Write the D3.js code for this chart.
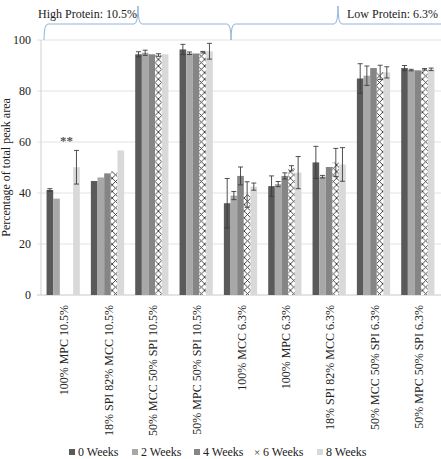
<!DOCTYPE html>
<html>
<head>
<meta charset="utf-8">
<script src="https://cdn.jsdelivr.net/npm/d3@7"></script>
<style>
  body { margin: 0; background: #fff; }
  svg text { font-family: "Liberation Serif", "Times New Roman", Times, "DejaVu Serif", serif !important; }
</style>
</head>
<body>
<div id="chart"></div>
<script>
// data
const categories = ["100% MPC 10.5%", "18% SPI 82% MCC 10.5%", "50% MCC 50% SPI 10.5%", "50% MPC 50% SPI 10.5%",
    "100% MCC 6.3%", "100% MPC 6.3%", "18% SPI 82% MCC 6.3%", "50% MCC 50% SPI 6.3%", "50% MPC 50% SPI 6.3%"];
const seriesNames = ["0 Weeks", "2 Weeks", "4 Weeks", "6 Weeks", "8 Weeks"];
const week0 = [41.2, 44.7, 94.4, 96.3, 36.0, 42.7, 52.0, 84.9, 89.0];
const week2 = [37.8, 46.1, 95.0, 94.8, 39.0, 43.5, 46.4, 86.0, 88.2];
const week4 = [null, 47.7, 94.4, 94.7, 46.7, 46.7, 50.2, 89.0, 88.1];
const week6 = [null, 48.4, 94.1, 95.2, 39.4, 49.7, 52.0, 87.3, 88.5];
const week8 = [50.1, 56.7, 94.4, 95.6, 42.5, 48.0, 51.2, 87.3, 88.5];
const err0 = [0.5, 0, 1.0, 2.0, 9.7, 4.0, 6.3, 5.8, 1.0];
const err2 = [0, 0, 1.0, 0.5, 1.6, 1.0, 0.5, 3.8, 0.3];
const err4 = [0, 0, 0, 0, 3.5, 1.2, 0, 0, 0];
const err6 = [0, 0, 0.5, 0.3, 5.0, 1.0, 5.5, 2.8, 0.3];
const err8 = [6.6, 0, 0, 3.1, 1.4, 6.3, 6.6, 2.2, 0.5];
const yTicks = [0, 20, 40, 60, 80, 100];
const groupLabels = ["High Protein: 10.5%", "Low Protein: 6.3%"];

const values = [week0, week2, week4, week6, week8];
const errors = [err0, err2, err4, err6, err8];
const colors = ["#5a5a5a", "#a8a8a8", "#858585", "url(#hatch)", "#d9d9d9"];

const width = 441, height = 459;
const margin = { top: 40, right: 1, bottom: 164, left: 41 };

const svg = d3.select("#chart").append("svg")
    .attr("width", width)
    .attr("height", height);

// cross hatch for 6 weeks
const pat = svg.append("defs").append("pattern")
    .attr("id", "hatch")
    .attr("patternUnits", "userSpaceOnUse")
    .attr("width", 6.6)
    .attr("height", 6.6);
pat.append("rect").attr("width", 6.6).attr("height", 6.6).attr("fill", "#fff");
pat.append("path").attr("d", "M0,0 L6.6,6.6 M6.6,0 L0,6.6")
    .attr("stroke", "#333").attr("stroke-width", 0.9);

const x0 = d3.scaleBand()
    .domain(categories)
    .range([margin.left, width - margin.right])
    .paddingInner(0.25)
    .paddingOuter(0.125);

const x1 = d3.scaleBand()
    .domain(seriesNames)
    .range([0, x0.bandwidth()]);

const y = d3.scaleLinear()
    .domain([0, 100])
    .range([height - margin.bottom, margin.top]);

// grid
svg.append("g")
    .selectAll("line")
    .data(yTicks)
    .join("line")
    .attr("x1", margin.left - 4)
    .attr("x2", width)
    .attr("y1", d => y(d))
    .attr("y2", d => y(d))
    .attr("stroke", d => d === 0 ? "#c8c8c8" : "#e2e2e2")
    .attr("stroke-width", 1);

svg.append("line")
    .attr("x1", margin.left).attr("x2", margin.left)
    .attr("y1", y(100)).attr("y2", y(0))
    .attr("stroke", "#d0d0d0");

// y axis labels
const yAxis = svg.append("g")
    .attr("transform", `translate(${margin.left},0)`)
    .call(d3.axisLeft(y).tickValues(yTicks).tickSize(0).tickPadding(10));
yAxis.select(".domain").remove();
yAxis.selectAll("text")
    .style("font-size", "12px")
    .attr("fill", "#222");

svg.append("text")
    .attr("transform", `translate(10,${(y(0) + y(100)) / 2}) rotate(-90)`)
    .attr("text-anchor", "middle")
    .style("font-size", "12px")
    .attr("fill", "#222")
    .text("Percentage of total peak area");

// bars
const groups = svg.append("g")
    .selectAll("g")
    .data(seriesNames)
    .join("g");

groups.each(function(s, si) {
    const g = d3.select(this);
    const rows = categories.map((c, ci) => ({ c, v: values[si][ci], e: errors[si][ci] }))
        .filter(d => d.v !== null);

    g.selectAll("rect")
        .data(rows)
        .join("rect")
        .attr("x", d => x0(d.c) + x1(s))
        .attr("y", d => y(d.v))
        .attr("width", x1.bandwidth())
        .attr("height", d => y(0) - y(d.v))
        .attr("fill", colors[si]);

    const eb = g.selectAll(".err")
        .data(rows.filter(d => d.e > 0))
        .join("g")
        .attr("class", "err")
        .attr("stroke", "#3c3c3c")
        .attr("stroke-width", 0.9);
    const cx = d => x0(d.c) + x1(s) + x1.bandwidth() / 2;
    eb.append("line")
        .attr("x1", cx).attr("x2", cx)
        .attr("y1", d => y(d.v + d.e)).attr("y2", d => y(d.v - d.e));
    eb.append("line")
        .attr("x1", d => cx(d) - 2.5).attr("x2", d => cx(d) + 2.5)
        .attr("y1", d => y(d.v + d.e)).attr("y2", d => y(d.v + d.e));
    eb.append("line")
        .attr("x1", d => cx(d) - 2.5).attr("x2", d => cx(d) + 2.5)
        .attr("y1", d => y(d.v - d.e)).attr("y2", d => y(d.v - d.e));
});

// missing data marker
svg.append("text")
    .attr("x", x0(categories[0]) + x1("6 Weeks"))
    .attr("y", y(60) + 3)
    .attr("text-anchor", "middle")
    .style("font-size", "13px")
    .style("font-weight", "bold")
    .attr("fill", "#555")
    .text("**");

// category labels
svg.append("g")
    .selectAll("text")
    .data(categories)
    .join("text")
    .attr("transform", d => `translate(${x0(d) + x0.bandwidth() / 2 + 1},${y(0) + 10}) rotate(-90)`)
    .attr("text-anchor", "end")
    .attr("dy", "0.35em")
    .style("font-size", "12px")
    .attr("fill", "#222")
    .text(d => d);

// braces for the protein level groups
const braceY = 24, braceTop = 6, braceBottom = 40, r = 4;
const braceSpans = [[44, 231, 138], [231, 446, 338]];
svg.append("g")
    .selectAll("path")
    .data(braceSpans)
    .join("path")
    .attr("d", ([a, b, m]) => `M${a},${braceBottom} Q${a},${braceY} ${a + r},${braceY} L${m - r},${braceY} Q${m},${braceY} ${m},${braceTop}` +
        ` Q${m},${braceY} ${m + r},${braceY} L${b - r},${braceY} Q${b},${braceY} ${b},${braceBottom}`)
    .attr("fill", "none")
    .attr("stroke", "#8fb4dc")
    .attr("stroke-width", 1);

svg.append("text")
    .attr("x", 38).attr("y", 18)
    .style("font-size", "12px")
    .attr("fill", "#222")
    .text(groupLabels[0]);
svg.append("text")
    .attr("x", 438).attr("y", 18)
    .attr("text-anchor", "end")
    .style("font-size", "12px")
    .attr("fill", "#222")
    .text(groupLabels[1]);

// legend
const legendX = [69, 132, 194, 254, 317];
const legend = svg.append("g")
    .selectAll("g")
    .data(seriesNames)
    .join("g")
    .attr("transform", (d, i) => `translate(${legendX[i]},452)`);
legend.filter((d, i) => i !== 3).append("rect")
    .attr("x", 0).attr("y", -3)
    .attr("width", 6).attr("height", 6)
    .attr("fill", (d, i) => colors[[0, 1, 2, 4][i]]);
legend.filter((d, i) => i === 3).append("text")
    .attr("x", 3).attr("y", 4)
    .attr("text-anchor", "middle")
    .style("font-size", "11px")
    .attr("fill", "#333")
    .text("×");
legend.append("text")
    .attr("x", 9).attr("y", 4)
    .style("font-size", "12px")
    .attr("fill", "#222")
    .text(d => d);
</script>
</body>
</html>
